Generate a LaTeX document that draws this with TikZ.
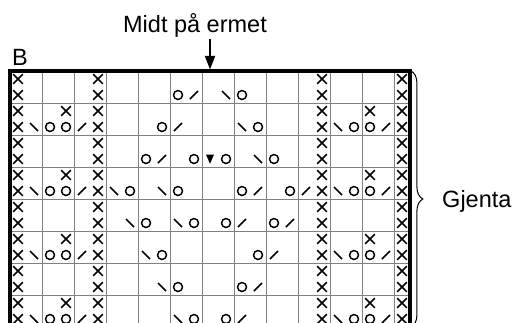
\documentclass[tikz,border=0pt]{standalone}
\usepackage{fontspec}
\setmainfont{Liberation Sans}
\usetikzlibrary{arrows.meta, positioning, decorations.pathreplacing}

\begin{document}
\begin{tikzpicture}[x=0.5cm, y=0.5cm,
  rute/.style={draw=black!50, line width=0.8pt},
  ramme/.style={line width=3.1pt, line join=miter},
  tegn/.style={line width=1.3pt},
  etikett/.style={inner sep=0pt, font=\fontsize{20.9}{24}\selectfont},
  pics/kryss/.style={code={\draw[tegn] (-0.3,-0.3) -- (0.3,0.3) (-0.3,0.3) -- (0.3,-0.3);}},
  pics/kast/.style={code={\draw[tegn] (0,0) circle (0.28);}},
  pics/hoyre/.style={code={\draw[tegn] (-0.25,-0.25) -- (0.25,0.25);}},
  pics/venstre/.style={code={\draw[tegn] (-0.25,0.25) -- (0.25,-0.25);}},
  pics/trekant/.style={code={\fill (-0.25,0.28) -- (0.25,0.28) -- (0,-0.3) -- cycle;}}]
\useasboundingbox (-0.625,-15.6875) rectangle (31.5625,4.4375);
\clip (-0.625,-15.6875) rectangle (31.5625,4.4375);

\draw[rute] (0,-16) grid (25,0);

\foreach \r in {1,...,16} {
  \foreach \k in {1,6,20,25} \pic at (\k-0.5,0.5-\r) {kryss};
}
\foreach \r in {3,7,11,15} {
  \foreach \k in {4,23} \pic at (\k-0.5,0.5-\r) {kryss};
}
\foreach \r in {4,8,12,16} {
  \foreach \k in {2,21} \pic at (\k-0.5,0.5-\r) {venstre};
  \foreach \k in {3,4,22,23} \pic at (\k-0.5,0.5-\r) {kast};
  \foreach \k in {5,24} \pic at (\k-0.5,0.5-\r) {hoyre};
}
\foreach \k/\r in {11/2,15/2,10/4,16/4,9/6,12/6,14/6,17/6,8/8,11/8,15/8,18/8,9/10,12/10,14/10,17/10,10/12,16/12,11/14,15/14,12/16,14/16}
  \pic at (\k-0.5,0.5-\r) {kast};
\foreach \k/\r in {12/2,11/4,10/6,16/8,19/8,15/10,18/10,17/12,16/14,15/16}
  \pic at (\k-0.5,0.5-\r) {hoyre};
\foreach \k/\r in {14/2,15/4,16/6,7/8,10/8,8/10,11/10,9/12,10/14,11/16}
  \pic at (\k-0.5,0.5-\r) {venstre};
\pic at (12.5,-5.5) {trekant};

\draw[ramme] (0,-16) -- (0,0) -- (25,0) -- (25,-16);

\node[etikett, anchor=base west] (diagram) at (0.125,0.375) {B};
\node[etikett, anchor=base] (midt) at (11.5625,2.4375) {Midt på ermet};
\coordinate (pilstart) at (12.5,2);
\coordinate (piltopp) at (12.5,0.1);
\draw[line width=1.4pt, -{Triangle[length=12pt, width=9pt]}] (pilstart) -- (piltopp);

\coordinate (klammetopp) at (25.06,0);
\coordinate (klammebunn) at (25.06,-16);
\draw[line width=0.9pt, decorate, decoration={brace, amplitude=10.6pt}] (klammetopp) -- (klammebunn);
\node[etikett, anchor=base west] (gjenta) at (27.0,-8.5) {Gjenta};
\end{tikzpicture}
\end{document}
